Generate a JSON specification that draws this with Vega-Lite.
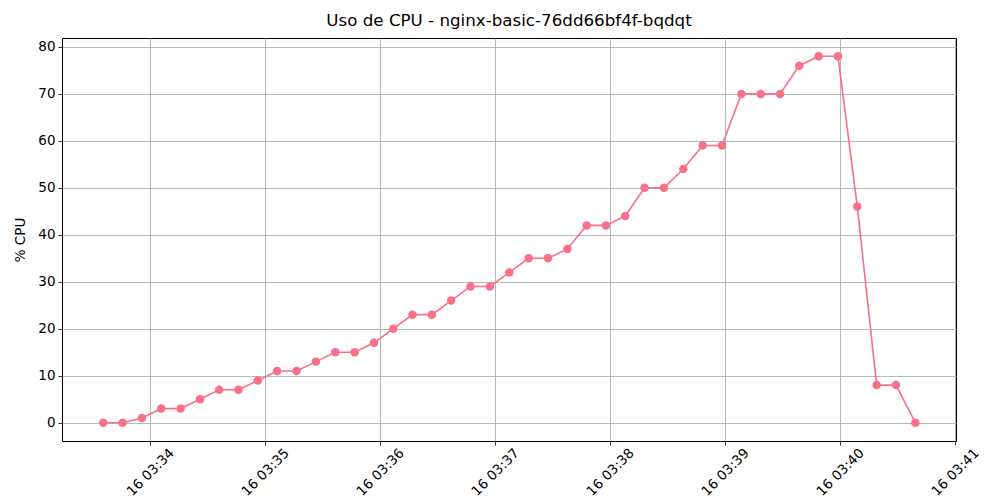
{
  "$schema": "https://vega.github.io/schema/vega-lite/v6.json",
  "width": 894,
  "height": 403,
  "autosize": {"type": "none"},
  "padding": {"left": 62, "top": 38, "right": 44, "bottom": 59},
  "background": "white",
  "title": {"text": "Uso de CPU - nginx-basic-76dd66bf4f-bqdqt", "font": "DejaVu Sans", "fontSize": 16.7, "fontWeight": "normal", "color": "black", "offset": 8, "anchor": "middle"},
  "config": {
    "font": "DejaVu Sans",
    "view": {"stroke": "black", "strokeWidth": 1},
    "axis": {"domain": false, "grid": true, "gridColor": "#b0b0b0", "gridWidth": 0.9, "tickColor": "black", "tickSize": 4, "tickWidth": 0.8, "labelColor": "black", "labelFont": "DejaVu Sans", "labelFontSize": 13.5, "titleFont": "DejaVu Sans", "titleFontSize": 13.5, "titleFontWeight": "normal", "titleColor": "black"}
  },
  "data": {"values": [
    {"time": "2024-01-16T03:33:35.500Z", "cpu": 0},
    {"time": "2024-01-16T03:33:45.600Z", "cpu": 0},
    {"time": "2024-01-16T03:33:55.700Z", "cpu": 1},
    {"time": "2024-01-16T03:34:05.800Z", "cpu": 3},
    {"time": "2024-01-16T03:34:15.900Z", "cpu": 3},
    {"time": "2024-01-16T03:34:26.000Z", "cpu": 5},
    {"time": "2024-01-16T03:34:36.000Z", "cpu": 7},
    {"time": "2024-01-16T03:34:46.100Z", "cpu": 7},
    {"time": "2024-01-16T03:34:56.200Z", "cpu": 9},
    {"time": "2024-01-16T03:35:06.300Z", "cpu": 11},
    {"time": "2024-01-16T03:35:16.400Z", "cpu": 11},
    {"time": "2024-01-16T03:35:26.500Z", "cpu": 13},
    {"time": "2024-01-16T03:35:36.600Z", "cpu": 15},
    {"time": "2024-01-16T03:35:46.700Z", "cpu": 15},
    {"time": "2024-01-16T03:35:56.800Z", "cpu": 17},
    {"time": "2024-01-16T03:36:06.900Z", "cpu": 20},
    {"time": "2024-01-16T03:36:16.900Z", "cpu": 23},
    {"time": "2024-01-16T03:36:27.000Z", "cpu": 23},
    {"time": "2024-01-16T03:36:37.100Z", "cpu": 26},
    {"time": "2024-01-16T03:36:47.200Z", "cpu": 29},
    {"time": "2024-01-16T03:36:57.300Z", "cpu": 29},
    {"time": "2024-01-16T03:37:07.400Z", "cpu": 32},
    {"time": "2024-01-16T03:37:17.500Z", "cpu": 35},
    {"time": "2024-01-16T03:37:27.600Z", "cpu": 35},
    {"time": "2024-01-16T03:37:37.700Z", "cpu": 37},
    {"time": "2024-01-16T03:37:47.800Z", "cpu": 42},
    {"time": "2024-01-16T03:37:57.800Z", "cpu": 42},
    {"time": "2024-01-16T03:38:07.900Z", "cpu": 44},
    {"time": "2024-01-16T03:38:18.000Z", "cpu": 50},
    {"time": "2024-01-16T03:38:28.100Z", "cpu": 50},
    {"time": "2024-01-16T03:38:38.200Z", "cpu": 54},
    {"time": "2024-01-16T03:38:48.300Z", "cpu": 59},
    {"time": "2024-01-16T03:38:58.400Z", "cpu": 59},
    {"time": "2024-01-16T03:39:08.500Z", "cpu": 70},
    {"time": "2024-01-16T03:39:18.600Z", "cpu": 70},
    {"time": "2024-01-16T03:39:28.700Z", "cpu": 70},
    {"time": "2024-01-16T03:39:38.700Z", "cpu": 76},
    {"time": "2024-01-16T03:39:48.800Z", "cpu": 78},
    {"time": "2024-01-16T03:39:58.900Z", "cpu": 78},
    {"time": "2024-01-16T03:40:09.000Z", "cpu": 46},
    {"time": "2024-01-16T03:40:19.100Z", "cpu": 8},
    {"time": "2024-01-16T03:40:29.200Z", "cpu": 8},
    {"time": "2024-01-16T03:40:39.300Z", "cpu": 0}
  ]},
  "mark": {"type": "line", "color": "#f77189", "strokeWidth": 1.6, "point": {"filled": true, "size": 72, "color": "#f77189", "opacity": 1}},
  "encoding": {
    "x": {
      "field": "time", "type": "temporal",
      "scale": {"type": "utc", "domain": [
        {"year": 2024, "month": 1, "date": 16, "hours": 3, "minutes": 33, "seconds": 14, "utc": true},
        {"year": 2024, "month": 1, "date": 16, "hours": 3, "minutes": 41, "seconds": 0, "milliseconds": 500, "utc": true}
      ]},
      "axis": {
        "title": null,
        "labelExpr": "utcFormat(datum.value, '%d %H:%M')",
        "values": [
          {"year": 2024, "month": 1, "date": 16, "hours": 3, "minutes": 34, "utc": true},
          {"year": 2024, "month": 1, "date": 16, "hours": 3, "minutes": 35, "utc": true},
          {"year": 2024, "month": 1, "date": 16, "hours": 3, "minutes": 36, "utc": true},
          {"year": 2024, "month": 1, "date": 16, "hours": 3, "minutes": 37, "utc": true},
          {"year": 2024, "month": 1, "date": 16, "hours": 3, "minutes": 38, "utc": true},
          {"year": 2024, "month": 1, "date": 16, "hours": 3, "minutes": 39, "utc": true},
          {"year": 2024, "month": 1, "date": 16, "hours": 3, "minutes": 40, "utc": true},
          {"year": 2024, "month": 1, "date": 16, "hours": 3, "minutes": 41, "utc": true}
        ],
        "labelAngle": -45,
        "labelAlign": "center",
        "labelBaseline": "middle",
        "labelPadding": 27,
        "labelFlush": false,
        "labelOverlap": false
      }
    },
    "y": {
      "field": "cpu", "type": "quantitative",
      "scale": {"domain": [-3.9, 81.9], "nice": false, "zero": false},
      "axis": {"title": "% CPU", "values": [0, 10, 20, 30, 40, 50, 60, 70, 80], "labelPadding": 3, "titlePadding": 10}
    }
  }
}
